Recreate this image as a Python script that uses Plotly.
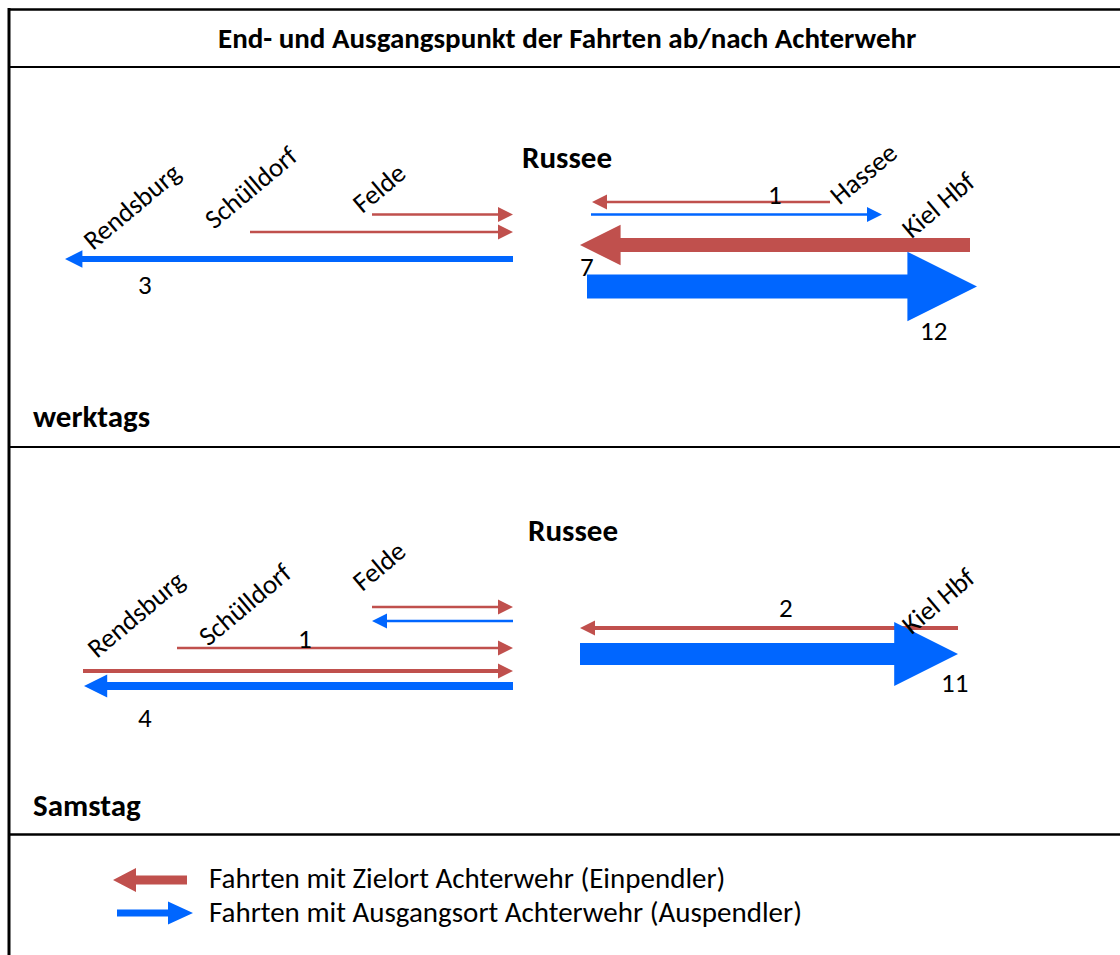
import plotly.graph_objects as go

# Fahrten werktags
WT_ORT = ["Felde", "Schülldorf", "Rendsburg", "Hassee", "Hassee", "Kiel Hbf", "Kiel Hbf"]
WT_RICHTUNG = ["ein", "ein", "aus", "ein", "aus", "ein", "aus"]
WT_FAHRTEN = [1, 1, 3, 1, 1, 7, 12]
WT_ZAHL = [False, False, True, True, False, True, True]

# Fahrten Samstag
SA_ORT = ["Felde", "Felde", "Schülldorf", "Rendsburg", "Rendsburg", "Kiel Hbf", "Kiel Hbf"]
SA_RICHTUNG = ["ein", "aus", "ein", "ein", "aus", "ein", "aus"]
SA_FAHRTEN = [1, 1, 1, 2, 4, 2, 11]
SA_ZAHL = [False, False, True, False, True, True, True]

TITEL = "End- und Ausgangspunkt der Fahrten ab/nach Achterwehr"
KNOTEN = "Russee"
TAGE = ["werktags", "Samstag"]
LEGENDE = {
    "ein": "Fahrten mit Zielort Achterwehr (Einpendler)",
    "aus": "Fahrten mit Ausgangsort Achterwehr (Auspendler)",
}

FARBE = {"ein": "#C0504D", "aus": "#0066FF"}
SCHRIFT = "Carlito, Lato, sans-serif"

# Lage im Bild (Pixel): äußeres Ende, Ende bei Russee, Höhe, Lage der Zahl
LAGE_WT = [
    (372, 513, 214.5, None),
    (250, 513, 232, None),
    (65, 513, 259, (145, 284)),
    (830, 592, 202, (775, 194)),
    (882, 591, 214.5, None),
    (970, 580, 245, (587, 266)),
    (977, 587, 286.5, (933, 330)),
]
LAGE_SA = [
    (372, 513, 607, None),
    (372, 513, 621, None),
    (177, 513, 648, (305, 638)),
    (83, 513, 671, None),
    (84, 513, 686, (145, 717)),
    (958, 580, 628, (786, 607)),
    (958, 580, 654, (954, 682)),
]
# Ortsnamen (schräg)
NAMEN_WT = {"Rendsburg": (131, 206), "Schülldorf": (250, 187), "Felde": (378, 188),
            "Hassee": (863, 173), "Kiel Hbf": (938, 204)}
NAMEN_SA = {"Rendsburg": (135, 614), "Schülldorf": (244, 604), "Felde": (378, 566),
            "Kiel Hbf": (938, 600)}


def pfeil(x0, x1, y, breite, kopf_l, kopf_h):
    """Polygon eines waagrechten Pfeils von x0 nach x1 (Spitze bei x1)."""
    d = 1 if x1 > x0 else -1
    xb = x1 - d * kopf_l
    xs = [x0, xb, xb, x1, xb, xb, x0, x0]
    ys = [y - breite / 2, y - breite / 2, y - kopf_h / 2, y,
          y + kopf_h / 2, y + breite / 2, y + breite / 2, y - breite / 2]
    return xs, ys


def pfeil_trace(xs, ys, farbe):
    return go.Scatter(
        x=xs, y=ys, mode="lines", fill="toself", fillcolor=farbe,
        line=dict(width=0, color=farbe), hoverinfo="skip", showlegend=False
    )


fig = go.Figure()
annotations = []


def panel(orte, richtung, fahrten, zahl, lage, namen):
    for ort, r, n, z, (xa, xr, y, pos) in zip(orte, richtung, fahrten, zahl, lage):
        breite = max(2.5, 2 * n)
        kopf = max(15, 2.9 * breite)
        if r == "ein":
            xs, ys = pfeil(xa, xr, y, breite, kopf, kopf)
        else:
            xs, ys = pfeil(xr, xa, y, breite, kopf, kopf)
        fig.add_trace(pfeil_trace(xs, ys, FARBE[r]))
        if z and pos:
            annotations.append(dict(x=pos[0], y=pos[1], text=str(n),
                                    font=dict(size=27)))
    for name, (x, y) in namen.items():
        annotations.append(dict(x=x, y=y, text=name, textangle=-40,
                                font=dict(size=27)))


panel(WT_ORT, WT_RICHTUNG, WT_FAHRTEN, WT_ZAHL, LAGE_WT, NAMEN_WT)
panel(SA_ORT, SA_RICHTUNG, SA_FAHRTEN, SA_ZAHL, LAGE_SA, NAMEN_SA)

# Legende
xs, ys = pfeil(187, 113, 880, 9, 23, 24)
fig.add_trace(pfeil_trace(xs, ys, FARBE["ein"]))
xs, ys = pfeil(117, 193, 913, 7, 25, 23)
fig.add_trace(pfeil_trace(xs, ys, FARBE["aus"]))
annotations.append(dict(x=207, y=878, text=LEGENDE["ein"], xanchor="left",
                        font=dict(size=29)))
annotations.append(dict(x=207, y=912, text=LEGENDE["aus"], xanchor="left",
                        font=dict(size=29)))

# Überschriften
annotations.append(dict(x=567, y=38, text="<b>" + TITEL + "</b>", font=dict(size=29)))
annotations.append(dict(x=567, y=157, text="<b>" + KNOTEN + "</b>", font=dict(size=31)))
annotations.append(dict(x=573, y=530, text="<b>" + KNOTEN + "</b>", font=dict(size=31)))
annotations.append(dict(x=31, y=416, text="<b>" + TAGE[0] + "</b>", xanchor="left",
                        font=dict(size=31)))
annotations.append(dict(x=31, y=805, text="<b>" + TAGE[1] + "</b>", xanchor="left",
                        font=dict(size=31)))

for a in annotations:
    a.setdefault("xanchor", "center")
    a.update(xref="x", yref="y", yanchor="middle", showarrow=False)

# Rahmen und Trennlinien
linien = [
    dict(x0=9, x1=1120, y0=9.5, y1=9.5, w=2.5),
    dict(x0=9, x1=9, y0=8, y1=955, w=3),
    dict(x0=9, x1=1120, y0=67, y1=67, w=2),
    dict(x0=9, x1=1120, y0=447, y1=447, w=2),
    dict(x0=9, x1=1120, y0=834.5, y1=834.5, w=2.5),
]
shapes = [dict(type="line", xref="x", yref="y", x0=l["x0"], x1=l["x1"],
               y0=l["y0"], y1=l["y1"], line=dict(color="black", width=l["w"]))
          for l in linien]

fig.update_layout(
    width=1120, height=955,
    margin=dict(l=0, r=0, t=0, b=0),
    paper_bgcolor="white", plot_bgcolor="white",
    font=dict(family=SCHRIFT, color="black"),
    xaxis=dict(range=[0, 1120], visible=False, fixedrange=True),
    yaxis=dict(range=[955, 0], visible=False, fixedrange=True),
    annotations=annotations,
    shapes=shapes,
    showlegend=False,
)

# Seitenrand des Browsers entfernen, damit Bildpunkte = Achsenwerte
fig.write_html("out.html", config=dict(displayModeBar=False),
               post_script="document.body.style.margin='0';"
                           "document.body.style.overflow='hidden';")
